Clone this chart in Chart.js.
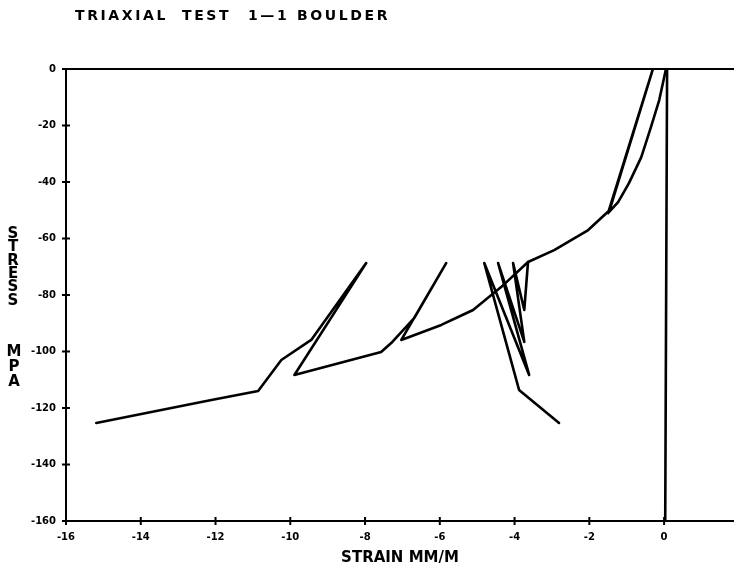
<!DOCTYPE html>
<html>
<head>
<meta charset="utf-8">
<script src="https://cdn.jsdelivr.net/npm/chart.js@4/dist/chart.umd.min.js"></script>
<style>
    html, body { margin: 0; padding: 0; background: #fff; }
    #wrap { width: 734px; height: 573px; }
</style>
</head>
<body>
<div id="wrap"><canvas id="triaxial"></canvas></div>
<script>
// axis ticks
const xTicks = [-16, -14, -12, -10, -8, -6, -4, -2, 0, 2];
const yTicks = [0, -20, -40, -60, -80, -100, -120, -140, -160];

// main loading path with unload/reload loops (strain mm/m, stress MPa)
const loadStrain = [0.05, -0.13, -0.35, -0.61, -0.94, -1.23, -1.50, -0.30, -1.46, -2.03, -2.94, -3.64,
    -4.36, -5.11, -5.51, -5.96, -7.03, -5.83, -6.68, -7.30, -7.57, -9.89, -7.97, -9.44, -10.24,
    -10.86, -12.11, -13.45, -15.19];
const loadStress = [0, -11.0, -20.5, -31.2, -40.4, -47.1, -51.0, 0, -50.0, -57.0, -64.1, -68.3,
    -77.2, -85.3, -87.8, -90.6, -95.9, -68.7, -88.1, -97.0, -100.2, -108.3, -68.7, -95.9, -103.0,
    -114.0, -117.2, -120.7, -125.3];

// cycling near -4 mm/m
const cycleStrain = [-3.64, -3.74, -4.04, -3.74, -4.44, -3.61, -4.81, -3.88, -2.81];
const cycleStress = [-68.3, -85.3, -68.7, -96.6, -68.7, -108.3, -68.7, -113.6, -125.3];

// near-vertical trace at zero strain
const vertStrain = [0.08, 0.03];
const vertStress = [0, -160];

function toPoints(xs, ys) {
    return xs.map((x, i) => ({ x: x, y: ys[i] }));
}

function lineSet(xs, ys) {
    return {
        data: toPoints(xs, ys),
        showLine: true,
        borderColor: '#000',
        borderWidth: 2.6,
        pointRadius: 0,
        tension: 0,
        borderJoinStyle: 'round',
        borderCapStyle: 'round'
    };
}

// title, stacked y label and cross-shaped tick marks
const decorations = {
    id: 'decorations',
    afterDraw(chart) {
        const ctx = chart.ctx;
        const xs = chart.scales.x;
        const ys = chart.scales.y;
        ctx.save();
        ctx.fillStyle = '#000';
        ctx.textBaseline = 'middle';

        ctx.font = 'bold 14px "DejaVu Sans"';
        ctx.letterSpacing = '2.6px';
        ctx.textAlign = 'left';
        ctx.fillText('TRIAXIAL', 75, 16);
        ctx.fillText('TEST', 182, 16);
        ctx.fillText('1—1', 248, 16);
        ctx.fillText('BOULDER', 297, 16);
        ctx.letterSpacing = '0px';

        ctx.font = 'bold 15px "DejaVu Sans"';
        ctx.textAlign = 'center';
        'STRESS'.split('').forEach((c, i) => ctx.fillText(c, 13, 234 + i * 13.4));
        'MPA'.split('').forEach((c, i) => ctx.fillText(c, 14, 352 + i * 15));

        ctx.strokeStyle = '#000';
        ctx.lineWidth = 2;
        ctx.beginPath();
        ctx.moveTo(xs.left, ys.getPixelForValue(0));
        ctx.lineTo(xs.right, ys.getPixelForValue(0));
        yTicks.forEach(v => {
            const py = ys.getPixelForValue(v);
            ctx.moveTo(xs.left - 4, py);
            ctx.lineTo(xs.left + 4, py);
        });
        xTicks.forEach(v => {
            const px = xs.getPixelForValue(v);
            ctx.moveTo(px, ys.bottom - 4);
            ctx.lineTo(px, ys.bottom + 4);
        });
        ctx.stroke();
        ctx.restore();
    }
};

new Chart(document.getElementById('triaxial'), {
    type: 'scatter',
    data: {
        datasets: [
            lineSet(loadStrain, loadStress),
            lineSet(cycleStrain, cycleStress),
            lineSet(vertStrain, vertStress)
        ]
    },
    options: {
        responsive: true,
        maintainAspectRatio: false,
        animation: false,
        layout: { padding: { top: 69, right: 0, left: 0, bottom: 0 } },
        plugins: {
            legend: { display: false },
            tooltip: { enabled: false }
        },
        scales: {
            x: {
                type: 'linear',
                min: -16,
                max: 1.87,
                afterBuildTicks: s => { s.ticks = xTicks.map(v => ({ value: v })); },
                afterFit: s => { s.height = 52; s.paddingLeft = 0; s.paddingRight = 0; },
                border: { display: true, color: '#000', width: 2 },
                grid: { display: false },
                ticks: {
                    autoSkip: false,
                    maxRotation: 0,
                    padding: 2,
                    color: '#000',
                    font: { family: 'DejaVu Sans', size: 10, weight: 'bold' }
                },
                title: {
                    display: true,
                    text: 'STRAIN MM/M',
                    color: '#000',
                    font: { family: 'DejaVu Sans', size: 15, weight: 'bold' },
                    padding: { top: 4, bottom: 6 }
                }
            },
            y: {
                type: 'linear',
                min: -160,
                max: 0,
                afterBuildTicks: s => { s.ticks = yTicks.map(v => ({ value: v })); },
                afterFit: s => { s.width = 66; s.paddingTop = 0; s.paddingBottom = 0; },
                border: { display: true, color: '#000', width: 2 },
                grid: { display: false },
                ticks: {
                    padding: 2,
                    color: '#000',
                    font: { family: 'DejaVu Sans', size: 10, weight: 'bold' }
                }
            }
        }
    },
    plugins: [decorations]
});
</script>
</body>
</html>
